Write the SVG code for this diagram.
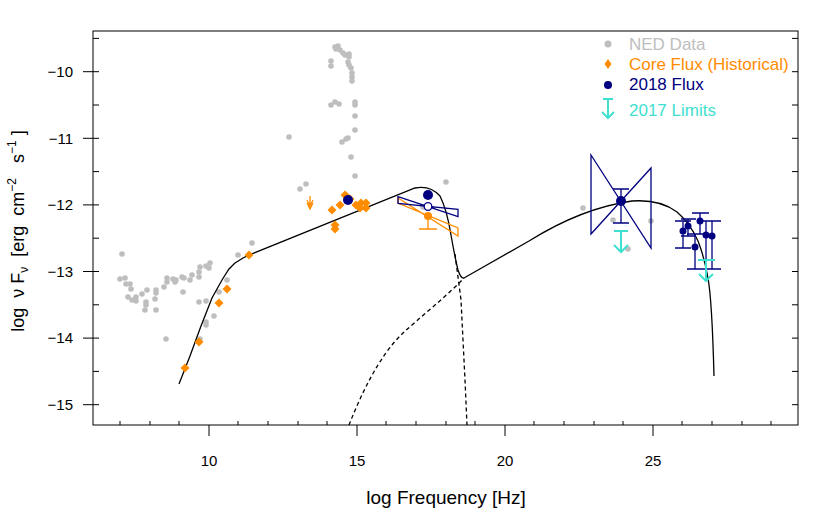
<svg xmlns="http://www.w3.org/2000/svg" width="830" height="519" viewBox="0 0 830 519">
<style>
text{font-family:"Liberation Sans",Arial,sans-serif;}
.ax{stroke:#000;stroke-width:1;fill:none}
.tl{font-size:15px;fill:#000}
.g{fill:#bebebe}
.o{fill:#ff8c00}
.n{fill:#000080}
.nl{stroke:#000080;stroke-width:1.3;fill:none}
.ol{stroke:#ff8c00;stroke-width:1.3;fill:none}
.cl{stroke:#40e0d0;stroke-width:2;fill:none}
.cv{stroke:#000;stroke-width:1.3;fill:none}
</style>
<defs>
<circle id="gp" r="2.8" class="g"/>
<path id="dm" d="M0,-4.5L4.5,0L0,4.5L-4.5,0Z" class="o"/>
</defs>
<rect width="830" height="519" fill="#fff"/>
<g id="axes">
<rect x="93" y="31" width="705" height="394" class="ax"/>
<path class="ax" d="M209,425V436M357,425V436M505,425V436M653,425V436
M120,425V421M150,425V421M179,425V421M238,425V421M268,425V421M298,425V421M327,425V421M386,425V421M416,425V421M446,425V421M475,425V421M534,425V421M564,425V421M594,425V421M623,425V421M682,425V421M712,425V421M742,425V421M771,425V421
M83,71.7H99M83,138.3H99M83,204.9H99M83,271.5H99M83,338.1H99M83,404.7H99
M93,38.4H99M93,105H99M93,171.6H99M93,238.2H99M93,304.8H99M93,371.4H99
M792,38.4H798M792,71.7H798M792,105H798M792,138.3H798M792,171.6H798M792,204.9H798M792,238.2H798M792,271.5H798M792,304.8H798M792,338.1H798M792,371.4H798M792,404.7H798"/>
<g class="tl" text-anchor="end">
<text x="73" y="77">−10</text><text x="73" y="143.5">−11</text><text x="73" y="210">−12</text><text x="73" y="276.5">−13</text><text x="73" y="343">−14</text><text x="73" y="410">−15</text>
</g>
<g class="tl" text-anchor="middle">
<text x="209" y="466">10</text><text x="357" y="466">15</text><text x="505" y="466">20</text><text x="653" y="466">25</text>
</g>
<text x="446" y="504" font-size="19" text-anchor="middle">log Frequency [Hz]</text>
<text transform="translate(24,231) rotate(-90)" font-size="18" text-anchor="middle" xml:space="preserve">log  ν F<tspan font-size="12" dy="4">ν</tspan><tspan dy="-4">  [erg  cm</tspan><tspan font-size="12" dy="-8">−2</tspan><tspan dy="8">   s</tspan><tspan font-size="12" dy="-8">−1</tspan><tspan dy="8"> ]</tspan></text>
</g>
<g id="ned">
<use href="#gp" x="122" y="254"/><use href="#gp" x="120" y="279"/><use href="#gp" x="125" y="278"/><use href="#gp" x="126" y="284"/><use href="#gp" x="130" y="284"/><use href="#gp" x="131" y="289"/><use href="#gp" x="128" y="297"/><use href="#gp" x="132" y="300"/><use href="#gp" x="136" y="297"/><use href="#gp" x="136" y="301"/><use href="#gp" x="142" y="294"/><use href="#gp" x="147" y="290"/><use href="#gp" x="146" y="302"/><use href="#gp" x="146" y="305"/><use href="#gp" x="145" y="310"/><use href="#gp" x="155" y="299"/><use href="#gp" x="156" y="293"/><use href="#gp" x="156" y="290"/><use href="#gp" x="156" y="310"/><use href="#gp" x="164" y="287"/><use href="#gp" x="167" y="278"/><use href="#gp" x="167" y="282"/><use href="#gp" x="173" y="279"/><use href="#gp" x="175" y="282"/><use href="#gp" x="176" y="280"/><use href="#gp" x="182" y="277"/><use href="#gp" x="184" y="278"/><use href="#gp" x="183" y="292"/><use href="#gp" x="190" y="280"/><use href="#gp" x="192" y="275"/><use href="#gp" x="199" y="277"/><use href="#gp" x="199" y="272"/><use href="#gp" x="200" y="267"/><use href="#gp" x="206" y="266"/><use href="#gp" x="210" y="263"/><use href="#gp" x="209" y="268"/><use href="#gp" x="199" y="302"/><use href="#gp" x="206" y="301"/><use href="#gp" x="219" y="292"/><use href="#gp" x="227" y="280"/><use href="#gp" x="214" y="316"/><use href="#gp" x="206" y="322"/><use href="#gp" x="206" y="325"/><use href="#gp" x="200" y="339"/><use href="#gp" x="166" y="339"/><use href="#gp" x="238" y="255"/><use href="#gp" x="252" y="243"/><use href="#gp" x="289" y="137"/><use href="#gp" x="300" y="189"/><use href="#gp" x="306" y="184"/>
<use href="#gp" x="335" y="47"/><use href="#gp" x="338" y="46"/><use href="#gp" x="336" y="49"/><use href="#gp" x="340" y="50"/><use href="#gp" x="343" y="53"/><use href="#gp" x="345" y="55"/><use href="#gp" x="349" y="54"/><use href="#gp" x="349" y="57"/><use href="#gp" x="348" y="62"/><use href="#gp" x="349" y="65"/><use href="#gp" x="351" y="68"/><use href="#gp" x="352" y="73"/><use href="#gp" x="352" y="77"/><use href="#gp" x="352" y="81"/><use href="#gp" x="331" y="61"/><use href="#gp" x="331" y="66"/><use href="#gp" x="331" y="105"/><use href="#gp" x="335" y="102"/><use href="#gp" x="339" y="104"/><use href="#gp" x="355" y="102"/><use href="#gp" x="355" y="105"/><use href="#gp" x="355" y="116"/><use href="#gp" x="355" y="130"/><use href="#gp" x="342" y="142"/><use href="#gp" x="346" y="139"/><use href="#gp" x="348" y="138"/><use href="#gp" x="351" y="157"/><use href="#gp" x="355" y="176"/>
<use href="#gp" x="446" y="182"/><use href="#gp" x="423" y="207"/><use href="#gp" x="583" y="208"/><use href="#gp" x="613" y="220"/><use href="#gp" x="651" y="221"/><use href="#gp" x="628" y="249"/>
</g>
<g id="model">
<path class="cv" d="M179,384L190,356L201,326L212,298L222,280L229,269L235,263L243,258L249,255L415,188Q430,185 440,196Q447,210 451,235Q455,258 458,270Q461,279 464,278L529,241Q582,208 632,201Q660,199 677,212Q690,223 698,241Q704,256 708,278Q712,300 714,376"/>
<path class="cv" stroke-dasharray="4,3" d="M455,254L461,300L465,380L467,425"/>
<path class="cv" stroke-dasharray="4,3" d="M349,425C362,392 380,355 402,334C420,317 445,298 464,278"/>
</g>
<g id="core-flux">
<use href="#dm" x="185" y="368"/><use href="#dm" x="199" y="342"/><use href="#dm" x="219" y="303"/><use href="#dm" x="227" y="289"/><use href="#dm" x="249" y="255"/><use href="#dm" x="332" y="210"/><use href="#dm" x="335" y="225"/><use href="#dm" x="335" y="229"/><use href="#dm" x="340" y="205"/><use href="#dm" x="345" y="195"/><use href="#dm" x="346" y="196"/><use href="#dm" x="350" y="199"/><use href="#dm" x="356" y="205"/><use href="#dm" x="360" y="208"/><use href="#dm" x="361" y="203"/><use href="#dm" x="366" y="203"/><use href="#dm" x="366" y="208"/>
<path class="ol" d="M310,196V208M307,200L310,206L313,200M307,203L310,209L313,203"/>
<path class="ol" d="M398,198L458,236L458,228L398,203Z"/>
<circle cx="428" cy="216" r="4" class="o"/>
<path class="ol" d="M428,216V229M419,229H437"/>
</g>
<g id="flux-2018">
<circle cx="348" cy="200" r="5" class="n"/>
<circle cx="428" cy="195" r="5" class="n"/>
<path class="nl" d="M398,196.7L458,216.7L458,209.3L398,203.3Z"/>
<circle cx="428" cy="206.5" r="3.8" fill="#fff" stroke="#000080" stroke-width="1.3"/>
<path class="nl" d="M591,155L651,248L651,168L591,234Z"/>
<path class="nl" d="M621,189V223M613,189H629M613,223H629"/>
<circle cx="621" cy="201" r="5" class="n"/>
<path class="nl" d="M683,221V248M675,221H691M675,248H691 M688,219V236M681,219H696M681,236H696 M695,234V269M687,234H704M687,269H704 M700,213V234M692,213H709M692,234H709 M706,221V269M698,221H715M698,269H715 M712,221V269M704,221H721M704,269H721"/>
<circle cx="683" cy="231" r="3.5" class="n"/><circle cx="688" cy="226" r="3.5" class="n"/><circle cx="695" cy="247" r="3.5" class="n"/><circle cx="700" cy="221" r="3.5" class="n"/><circle cx="706" cy="235" r="3.5" class="n"/><circle cx="712" cy="236" r="3.5" class="n"/>
</g>
<g id="limits-2017">
<path class="cl" d="M614,231H628M621,231V252M614,245L621,252L628,245"/>
<path class="cl" d="M698,260H715M706,260V281M699,274L706,281L713,274"/>
</g>
<g id="legend" font-size="17">
<circle cx="608" cy="44" r="3.5" class="g"/><text x="629" y="50" fill="#bebebe">NED Data</text>
<path d="M608,59L611.5,64L608,69L604.5,64Z" class="o"/><text x="629" y="70" fill="#ff8c00">Core Flux (Historical)</text>
<circle cx="608" cy="85" r="4" class="n"/><text x="629" y="90" fill="#000080">2018 Flux</text>
<path class="cl" d="M603,99H613M608,99V118M602,112L608,118L614,112"/><text x="629" y="116" fill="#40e0d0">2017 Limits</text>
</g>
</svg>
